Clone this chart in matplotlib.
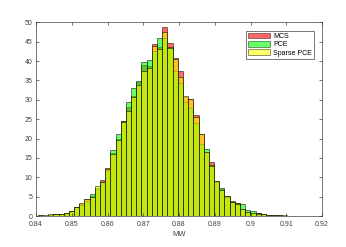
import numpy as np
import matplotlib
matplotlib.use("Agg")
import matplotlib.pyplot as plt
from matplotlib.patches import Patch

# Histogram bins (50 bins)
bin_start = 0.8405
bin_width = 0.00145

mcs = [0.15, 0.1, 0.35, 0.4, 0.6, 0.8, 1.2, 2.2, 3.0, 4.5,
       5.1, 6.9, 9.2, 12.3, 16.3, 19.9, 24.6, 28.2, 31.0, 34.7,
       39.0, 38.6, 44.3, 43.6, 48.9, 44.6, 40.7, 37.4, 30.7, 30.1,
       26.2, 21.1, 16.5, 13.9, 9.0, 7.0, 5.1, 3.9, 3.3, 1.8,
       1.0, 0.7, 0.7, 0.4, 0.3, 0.2, 0.15, 0.1, 0.1, 0.05]
pce = [0.1, 0.1, 0.3, 0.4, 0.6, 0.8, 1.2, 2.2, 2.9, 4.0,
       5.6, 7.2, 8.9, 12.0, 17.0, 21.2, 24.4, 29.3, 33.0, 34.8,
       39.7, 40.3, 42.6, 45.9, 45.9, 43.7, 37.4, 34.3, 29.5, 28.0,
       23.9, 18.6, 17.2, 13.2, 8.8, 7.1, 5.0, 3.7, 3.3, 3.0,
       1.6, 1.3, 0.8, 0.4, 0.3, 0.2, 0.15, 0.1, 0.05, 0.05]
spce = [0.2, 0.2, 0.5, 0.4, 0.6, 0.8, 1.4, 2.2, 3.4, 4.3,
        5.0, 7.8, 8.7, 12.2, 16.0, 19.7, 24.2, 27.0, 30.8, 33.8,
        37.5, 38.3, 44.0, 43.2, 47.6, 43.3, 40.6, 35.8, 31.0, 30.3,
        25.5, 21.2, 16.4, 13.0, 9.1, 6.7, 5.1, 3.5, 3.2, 1.7,
        1.0, 0.7, 0.5, 0.4, 0.3, 0.2, 0.1, 0.15, 0.1, 0.1]

labels = ["MCS", "PCE", "Sparse PCE"]
colors = ["#ff0000", "#00ff00", "#ffff00"]

xticks = [0.84, 0.85, 0.86, 0.87, 0.88, 0.89, 0.9, 0.91, 0.92]
xticklabels = ["0.84", "0.85", "0.86", "0.87", "0.88", "0.89", "0.9", "0.91", "0.92"]
yticks = [0, 5, 10, 15, 20, 25, 30, 35, 40, 45, 50]

plt.rcParams['font.family'] = ['Liberation Sans', 'DejaVu Sans']

fig = plt.figure(figsize=(3.46, 2.47), dpi=100)
ax = fig.add_axes([0.104, 0.1255, 0.827, 0.7842])

edges = bin_start + bin_width * np.arange(len(mcs))
for data, c in zip([mcs, pce, spce], colors):
    ax.bar(edges, data, width=bin_width, align='edge', color=c, alpha=0.6,
           edgecolor='black', linewidth=0.6)

ax.set_xlim(0.84, 0.92)
ax.set_ylim(0, 50)
ax.set_xticks(xticks)
ax.set_xticklabels(xticklabels)
ax.set_yticks(yticks)
ax.tick_params(direction='in', length=2.5, width=0.5, labelsize=5,
               top=True, right=True, colors='#404040')
ax.tick_params(axis='x', pad=3.5)
ax.tick_params(axis='y', pad=2.5)
for s in ax.spines.values():
    s.set_linewidth(0.5)
    s.set_color('#404040')
ax.set_xlabel("MW", fontsize=5.5, color='#404040', labelpad=2)

handles = [Patch(facecolor=c, alpha=0.6, edgecolor='black', linewidth=0.5) for c in colors]
leg = ax.legend(handles, labels, loc='upper right', fontsize=5,
                bbox_to_anchor=(0.985, 0.975), fancybox=False, framealpha=1,
                edgecolor='#404040', handlelength=3.2, handleheight=0.9,
                handletextpad=0.5, borderpad=0.3, labelspacing=0.15)
leg.get_frame().set_linewidth(0.5)

fig.savefig("out.png", dpi=100)
